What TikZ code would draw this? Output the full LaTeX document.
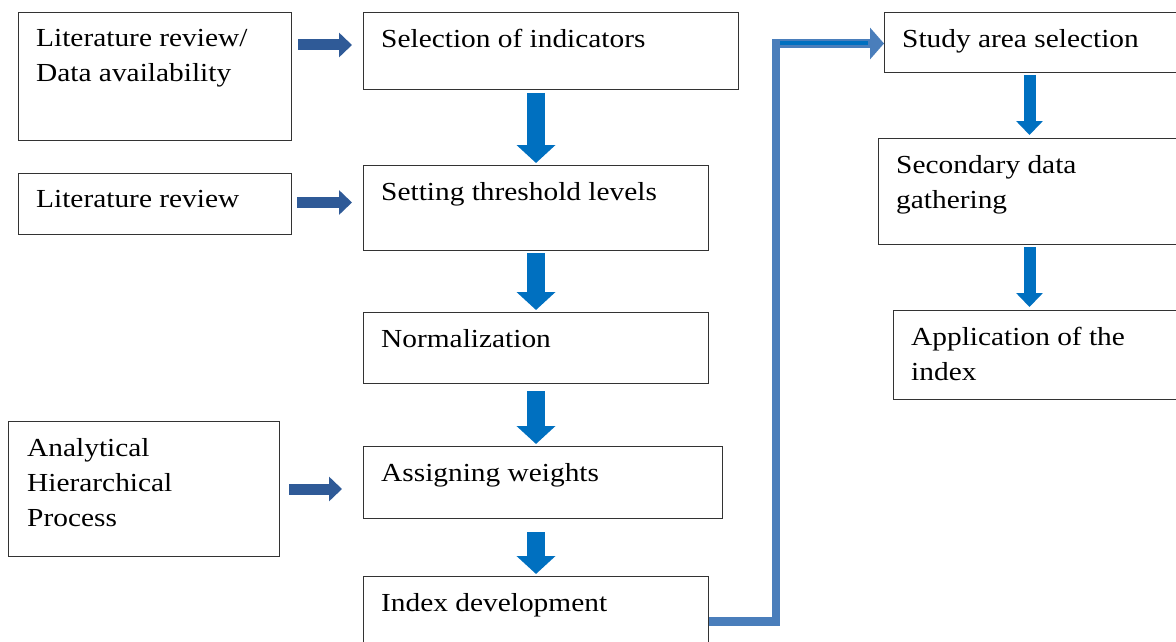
\documentclass[tikz,border=0pt]{standalone}
\usepackage{fontspec}
\setmainfont{Liberation Serif}[FakeStretch=1.13]
\usetikzlibrary{arrows.meta}

\definecolor{arrblue}{HTML}{0070C0}
\definecolor{sideblue}{HTML}{2F5A97}
\definecolor{linkblue}{HTML}{4A7EBB}

\begin{document}
\begin{tikzpicture}[x=1pt, y=-1pt,
  box/.style={draw=black!80, line width=1pt, anchor=north west, inner sep=0pt},
  txt/.style={anchor=north west, align=left, inner xsep=18pt, inner ysep=17pt, font=\fontsize{26}{35}\selectfont},
  varr/.style={arrblue, line width=18pt, -{Triangle[length=18pt,width=38pt]}, shorten <=2pt, shorten >=2pt},
  rarr/.style={arrblue, line width=12pt, -{Triangle[length=14pt,width=26pt]}, shorten <=2pt, shorten >=3pt},
  harr/.style={sideblue, line width=11pt, -{Triangle[length=13pt,width=24pt]}}
]
\useasboundingbox (0,0) rectangle (1176,642);
\clip (0,0) rectangle (1176,642);

% left column
\node[box, minimum width=273pt, minimum height=128pt, label={[txt]north west:Literature review/\\Data availability}] (lit1) at (18,12) {};
\node[box, minimum width=273pt, minimum height=61pt, label={[txt]north west:Literature review}] (lit2) at (18,173) {};
\node[box, minimum width=271pt, minimum height=135pt, label={[txt, inner xsep=19pt]north west:Analytical\\Hierarchical\\Process}] (ahp) at (8,421) {};

% middle column
\node[box, minimum width=375pt, minimum height=77pt, label={[txt]north west:Selection of indicators}] (sel) at (363,12) {};
\node[box, minimum width=345pt, minimum height=85pt, label={[txt]north west:Setting threshold levels}] (thr) at (363,165) {};
\node[box, minimum width=345pt, minimum height=71pt, label={[txt]north west:Normalization}] (norm) at (363,312) {};
\node[box, minimum width=359pt, minimum height=72pt, label={[txt]north west:Assigning weights}] (wts) at (363,446) {};
\node[box, minimum width=345pt, minimum height=90pt, label={[txt]north west:Index development}] (idx) at (363,576) {};

% right column
\node[box, minimum width=300pt, minimum height=60pt, label={[txt]north west:Study area selection}] (study) at (884,12) {};
\node[box, minimum width=306pt, minimum height=106pt, label={[txt]north west:Secondary data\\gathering}] (sec) at (878,138) {};
\node[box, minimum width=291pt, minimum height=89pt, label={[txt]north west:Application of the\\index}] (app) at (893,310) {};

% side inputs
\draw[harr] ([yshift=-33pt]lit1.north east) ++(6pt,0) -- ([yshift=-33pt, xshift=-11pt]lit1.north east -| sel.west);
\draw[harr] ([xshift=5pt, yshift=1.5pt]lit2.east) -- ([xshift=-11pt, yshift=1.5pt]lit2.east -| thr.west);
\draw[harr] ([xshift=9pt]ahp.east) -- ([xshift=-21pt]ahp.east -| wts.west);

% main chain
\draw[varr] ([yshift=-1pt]sel.south -| thr.north) -- (thr.north);
\draw[varr] (thr.south) -- (norm.north);
\draw[varr] ([yshift=-5pt]norm.south) -- (norm.south |- wts.north);
\draw[varr] ([yshift=-11pt]wts.south -| idx.north) -- (idx.north);

% right chain
\draw[rarr] ([xshift=-5pt]study.south) -- ([xshift=-5pt]study.south |- sec.north);
\draw[rarr] ([xshift=-2pt]sec.south) -- ([xshift=-2pt]sec.south |- app.north);

% link to study area
\draw[linkblue, line width=8.5pt, -{Triangle[length=14pt,width=31pt]}] (idx.east) -| ([xshift=-108pt, yshift=-1pt]study.west) -- ([yshift=-1pt]study.west);
\draw[arrblue, line width=4pt] ([xshift=-104pt, yshift=-1pt]study.west) -- ([xshift=-16pt, yshift=-1pt]study.west);
\end{tikzpicture}
\end{document}
